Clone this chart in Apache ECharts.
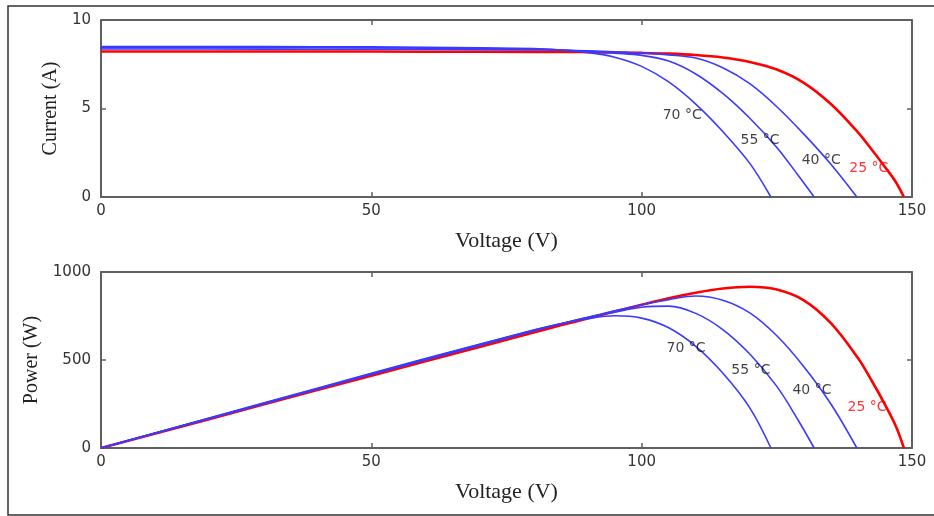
<!DOCTYPE html>
<html>
<head>
<meta charset="utf-8">
<script src="https://cdn.jsdelivr.net/npm/echarts@6/dist/echarts.min.js"></script>
<style>
html,body{margin:0;padding:0;background:#fff;}
#c{width:934px;height:516px;}
</style>
</head>
<body>
<div id="c"></div>
<script>
// ---------- data ----------
const tempLabels = ['25 °C', '40 °C', '55 °C', '70 °C'];

// 25 °C
const v25 = [0, 20, 40, 60, 80, 85, 90, 95, 100, 105, 110, 115, 120, 125, 130, 135, 140, 142.5, 145, 147, 148.5];
const i25 = [8.22, 8.22, 8.22, 8.21, 8.2, 8.2, 8.18, 8.16, 8.14, 8.1, 8.02, 7.88, 7.63, 7.2, 6.45, 5.25, 3.65, 2.7, 1.7, 0.85, 0];
const p25 = [0, 164, 329, 493, 656, 697, 736, 775, 814, 851, 882, 906, 916, 900, 839, 709, 511, 385, 247, 125, 0];

// 40 °C
const v40 = [0, 20, 40, 60, 80, 85, 90, 95, 100, 105, 110, 115, 120, 125, 130, 135, 139.8];
const i40 = [8.36, 8.36, 8.35, 8.34, 8.31, 8.29, 8.26, 8.21, 8.14, 8.03, 7.85, 7.3, 6.4, 5.1, 3.55, 1.85, 0];
const p40 = [0, 167, 334, 500, 665, 705, 743, 780, 814, 843, 864, 840, 768, 638, 462, 250, 0];

// 55 °C
const v55 = [0, 20, 40, 60, 80, 85, 90, 95, 100, 105, 110, 115, 120, 125, 129, 131.9];
const i55 = [8.44, 8.44, 8.43, 8.41, 8.36, 8.31, 8.24, 8.13, 8.0, 7.68, 6.95, 5.85, 4.45, 2.8, 1.2, 0];
const p55 = [0, 169, 337, 505, 669, 706, 742, 772, 800, 806, 765, 673, 534, 350, 155, 0];

// 70 °C
const v70 = [0, 20, 40, 60, 80, 85, 90, 95, 100, 105, 110, 115, 120, 123.9];
const i70 = [8.5, 8.5, 8.49, 8.46, 8.38, 8.3, 8.17, 7.9, 7.38, 6.5, 5.25, 3.7, 1.9, 0];
const p70 = [0, 170, 340, 508, 670, 706, 735, 751, 738, 683, 578, 426, 228, 0];

// annotation anchors (data units)
const ivLabelV = [142.0, 133.2, 121.9, 107.5];
const ivLabelI = [1.64, 2.09, 3.22, 4.63];
const pvLabelV = [141.7, 131.5, 120.2, 108.2];
const pvLabelP = [233, 329, 442, 567];

// ---------- chart ----------
const zip = (a, b) => a.map((x, k) => [x, b[k]]);
const RED = '#ff0000', BLUE = '#3a3aff';
const axisCol = '#606060';
const tickFont = {fontFamily: 'DejaVu Sans', fontSize: 15, color: '#333'};
const xTitleFont = {fontFamily: 'Liberation Serif', fontSize: 22, color: '#222'};
const yTitleFont = {fontFamily: 'Liberation Serif', fontSize: 20, color: '#222'};

function xAxes(gi) {
  return [
    {gridIndex: gi, type: 'value', min: 0, max: 150, interval: 50, position: 'bottom',
     name: 'Voltage (V)', nameLocation: 'middle', nameGap: 33, nameTextStyle: xTitleFont,
     axisLine: {lineStyle: {color: axisCol, width: 2}},
     axisTick: {inside: true, length: 5, lineStyle: {color: axisCol, width: 1.5}},
     axisLabel: Object.assign({margin: 7}, tickFont), splitLine: {show: false}},
    {gridIndex: gi, type: 'value', min: 0, max: 150, interval: 50, position: 'top',
     axisLine: {onZero: false, lineStyle: {color: axisCol, width: 2}},
     axisTick: {inside: true, length: 5, lineStyle: {color: axisCol, width: 1.5}},
     axisLabel: {show: false}, splitLine: {show: false}}
  ];
}
function yAxes(gi, max, interval, name, gap) {
  return [
    {gridIndex: gi, type: 'value', min: 0, max: max, interval: interval, position: 'left',
     name: name, nameLocation: 'middle', nameGap: gap, nameTextStyle: yTitleFont,
     axisLine: {show: true, onZero: false, lineStyle: {color: axisCol, width: 2}},
     axisTick: {show: true, inside: true, length: 5, lineStyle: {color: axisCol, width: 1.5}},
     axisLabel: Object.assign({margin: 10, formatter: (v) => String(v)}, tickFont), splitLine: {show: false}},
    {gridIndex: gi, type: 'value', min: 0, max: max, interval: interval, position: 'right',
     axisLine: {show: true, onZero: false, lineStyle: {color: axisCol, width: 2}},
     axisTick: {show: true, inside: true, length: 5, lineStyle: {color: axisCol, width: 1.5}},
     axisLabel: {show: false}, splitLine: {show: false}}
  ];
}

const curves = [
  {v: v25, i: i25, p: p25, color: RED, width: 2.6},
  {v: v40, i: i40, p: p40, color: BLUE, width: 1.6},
  {v: v55, i: i55, p: p55, color: BLUE, width: 1.6},
  {v: v70, i: i70, p: p70, color: BLUE, width: 1.6}
];

const series = [];
curves.forEach((c, k) => {
  series.push({type: 'line', xAxisIndex: 0, yAxisIndex: 0, data: zip(c.v, c.i),
    showSymbol: false, smooth: 0.35, lineStyle: {color: c.color, width: c.width}, z: k === 0 ? 2 : 3, silent: true});
  series.push({type: 'line', xAxisIndex: 2, yAxisIndex: 2, data: zip(c.v, c.p),
    showSymbol: false, smooth: 0.35, lineStyle: {color: c.color, width: c.width}, z: k === 0 ? 2 : 3, silent: true});
});

const labelStyle = (k) => ({show: true, position: 'inside', formatter: '{b}',
  fontFamily: 'DejaVu Sans', fontSize: 14, color: k === 0 ? RED : '#111'});
series.push({type: 'scatter', xAxisIndex: 0, yAxisIndex: 0, symbolSize: 0, silent: true, z: 5,
  data: tempLabels.map((t, k) => ({name: t, value: [ivLabelV[k], ivLabelI[k]], label: labelStyle(k)}))});
series.push({type: 'scatter', xAxisIndex: 2, yAxisIndex: 2, symbolSize: 0, silent: true, z: 5,
  data: tempLabels.map((t, k) => ({name: t, value: [pvLabelV[k], pvLabelP[k]], label: labelStyle(k)}))});

const option = {
  backgroundColor: '#ffffff',
  animation: false,
  grid: [
    {left: 101, right: 22, top: 20, height: 177},
    {left: 101, right: 22, top: 272, height: 176}
  ],
  xAxis: [...xAxes(0), ...xAxes(1)],
  yAxis: [...yAxes(0, 10, 5, 'Current (A)', 38), ...yAxes(1, 1000, 500, 'Power (W)', 58)],
  series: series,
  graphic: [{type: 'rect', shape: {x: 8, y: 6, width: 960, height: 509},
    style: {fill: 'none', stroke: '#333', lineWidth: 1.5}, silent: true, z: 0}]
};

const chart = echarts.init(document.getElementById('c'), null, {renderer: 'canvas'});
chart.setOption(option);
</script>
</body>
</html>
